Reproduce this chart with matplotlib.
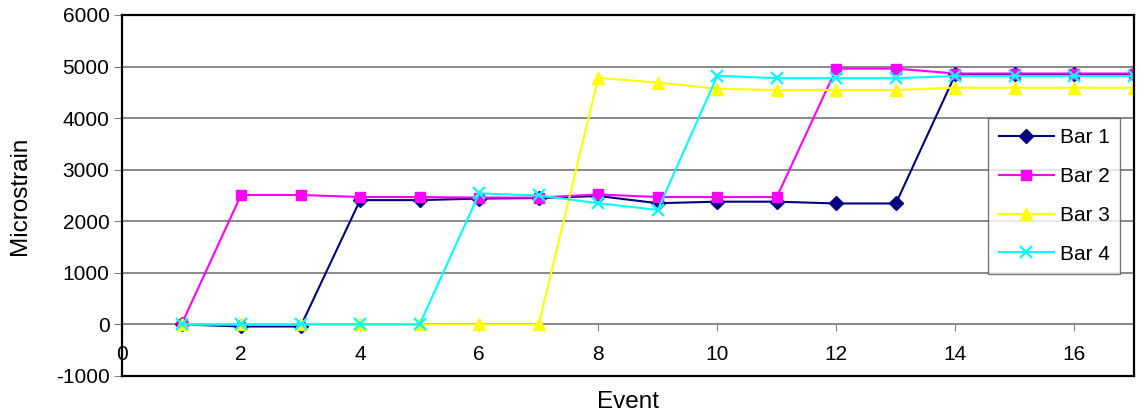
import matplotlib
matplotlib.use("Agg")
import matplotlib.pyplot as plt

# ---------------- Data ----------------
events = list(range(1, 18))
bar1 = [0, -40, -40, 2410, 2410, 2440, 2450, 2490, 2350, 2380, 2380, 2345, 2345, 4850, 4850, 4850, 4850]
bar2 = [0, 2510, 2510, 2470, 2470, 2460, 2460, 2520, 2470, 2470, 2470, 4960, 4960, 4865, 4865, 4865, 4865]
bar3 = [0, 0, 0, 0, 0, 0, 0, 4780, 4690, 4570, 4545, 4545, 4545, 4590, 4590, 4590, 4590]
bar4 = [0, 0, 0, 0, 0, 2540, 2500, 2350, 2220, 4820, 4775, 4775, 4775, 4815, 4815, 4815, 4815]
series_names = ["Bar 1", "Bar 2", "Bar 3", "Bar 4"]
x_ticks = [0, 2, 4, 6, 8, 10, 12, 14, 16]
y_ticks = [-1000, 0, 1000, 2000, 3000, 4000, 5000, 6000]

plt.rcParams['font.family'] = ['Liberation Sans', 'DejaVu Sans']
plt.rcParams['axes.unicode_minus'] = False

fig = plt.figure(figsize=(11.38, 4.15), dpi=100)
ax = fig.add_axes([0.1072, 0.094, 0.8893, 0.8699])

styles = [
    dict(color="#000080", marker="D", ms=7),
    dict(color="#FF00FF", marker="s", ms=7.5),
    dict(color="#FFFF00", marker="^", ms=9),
    dict(color="#00FFFF", marker="x", ms=8, mew=1.6),
]
for name, vals, st in zip(series_names, [bar1, bar2, bar3, bar4], styles):
    ax.plot(events, vals, lw=1.5, label=name, **st)

ax.set_xlim(0, 17)
ax.set_ylim(-1000, 6000)
ax.set_yticks(y_ticks)
ax.tick_params(axis="y", labelsize=15, direction="out", length=6, color="#808080", pad=3)
ax.grid(axis="y", color="#808080", lw=1.3)
ax.set_axisbelow(True)
for s in ax.spines.values():
    s.set_color("black")
    s.set_linewidth(1.6)

# main x axis: no ticks, category axis sits at y=0
ax.set_xticks([])
sec = ax.secondary_xaxis(1000 / 7000)
sec.set_xticks(x_ticks)
sec.spines["bottom"].set_visible(False)
sec.tick_params(axis="x", direction="out", length=5, color="#808080", labelsize=15, pad=10)

ax.set_xlabel("Event", fontsize=17.5, labelpad=11)
ax.set_ylabel("Microstrain", fontsize=17.5, labelpad=18)

leg = ax.legend(loc="upper left", bbox_to_anchor=(0.856, 0.715), borderaxespad=0,
                fontsize=15, frameon=True, fancybox=False, handlelength=2.65,
                handletextpad=0.3, labelspacing=0.95, borderpad=0.5)
leg.get_frame().set_edgecolor("#555555")
leg.get_frame().set_linewidth(1.0)

fig.savefig("out.png", dpi=100)
